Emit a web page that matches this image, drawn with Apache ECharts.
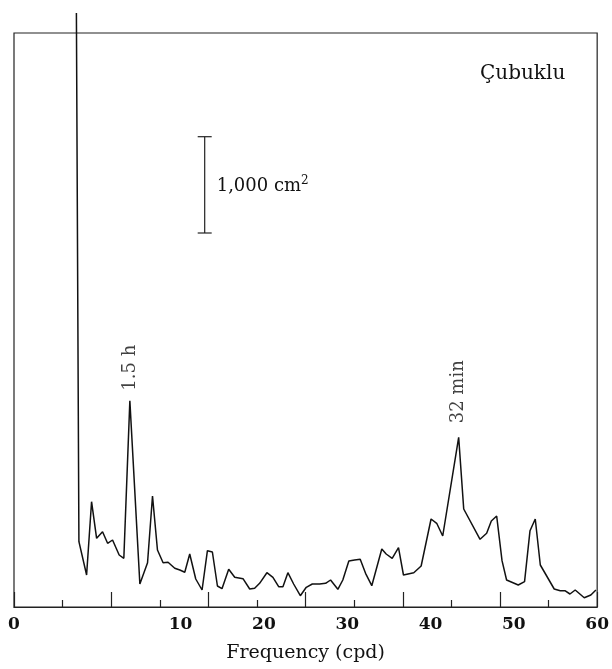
<!DOCTYPE html>
<html>
<head>
<meta charset="utf-8">
<script src="https://cdn.jsdelivr.net/npm/echarts@6/dist/echarts.min.js"></script>
<style>
html,body{margin:0;padding:0;background:#fff;}
#chart{width:612px;height:669px;}
</style>
</head>
<body>
<div id="chart"></div>
<script>
// Frequency positions (on the ticked 0-60 scale)
var freq = [
  6.42,
  6.68, 7.47, 7.98, 8.50, 9.11, 9.63, 10.14, 10.82, 11.30, 11.92,
  12.95, 13.74, 14.25, 14.76, 15.34, 15.85, 16.54, 17.06, 17.57, 18.08,
  18.70, 19.35, 19.90, 20.41, 20.93, 21.40, 22.09, 22.71, 23.56, 24.25,
  24.76, 25.27, 26.02, 26.64, 27.23, 27.67, 28.18, 28.77, 29.46, 30.07,
  30.69, 31.44, 32.06, 32.57, 33.32, 33.83, 34.45, 35.04, 35.62, 36.17,
  36.81, 37.84, 38.29, 38.91, 39.56, 40.07, 41.13, 41.89, 42.91, 43.49,
  44.11, 45.75, 46.27, 47.95, 48.63, 49.11, 49.66, 50.21, 50.68, 51.88,
  52.53, 53.09, 53.63, 54.15, 55.58, 56.20, 56.68, 57.20, 57.74, 58.67,
  59.35, 59.87
];
// Spectral power (relative units, scale bar = 1,000 cm^2)
var power = [
  594,
  65.3, 32, 105.3, 68.7, 75.3, 63.7, 67, 52, 48.7, 206.3,
  23, 44.3, 111, 57, 44.3, 44.7, 38.7, 37, 34.7, 53,
  28, 17, 56.3, 55, 21, 18.3, 37.7, 29.7, 28.3, 18,
  18.7, 23.7, 34.3, 29.7, 20.3, 20.3, 34.3, 23, 11.3, 19.7,
  23, 23, 23.7, 27, 17.7, 27, 46, 47, 47.7, 33.7,
  21.3, 58, 53, 48.7, 59.3, 32, 34.3, 41, 88, 83.7,
  71, 169.7, 98, 67.7, 73.7, 86, 91, 46.3, 27, 22,
  25.3, 76.3, 88, 42, 18, 16.3, 16.3, 13, 17, 9.3,
  12, 17
];
// Bottom tick labels (as printed)
var tickLabels = ['0', '', '10', '20', '30', '40', '50', '60'];
// Peak annotations
var peakFreq = [11.92, 45.75];
var peakPower = [206.3, 169.7];
var peakLabels = ['1.5 h', '32 min'];
var peakGap = [10, 14];
// Scale bar
var scaleBarX = 19.62;
var scaleBarLow = 374;
var scaleBarHigh = 470.3;
var scaleBarText = '1,000 cm';
var scaleBarSup = '2';
var stationName = 'Çubuklu';

var FONT = '"DejaVu Serif", "Liberation Serif", serif';

var lineData = freq.map(function (f, i) { return [f, power[i]]; });
var peakData = peakFreq.map(function (f, i) {
  return { value: [f, peakPower[i]], name: peakLabels[i], label: { distance: peakGap[i] } };
});

var chart = echarts.init(document.getElementById('chart'));
chart.setOption({
  animation: false,
  backgroundColor: '#ffffff',
  grid: {
    left: 14, right: 14, top: 33, bottom: 62,
    show: true, borderColor: '#222', borderWidth: 1.2, backgroundColor: 'transparent'
  },
  xAxis: [
    {
      type: 'value', min: 0, max: 60, interval: 10, position: 'bottom',
      axisLine: { show: true, onZero: false, lineStyle: { color: '#222', width: 1.2 } },
      axisTick: { show: true, inside: true, length: 15, lineStyle: { color: '#222', width: 1.2 } },
      minorTick: { show: true, splitNumber: 2, length: 7, lineStyle: { color: '#222', width: 1.2 } },
      axisLabel: { show: false },
      splitLine: { show: false },
      minorSplitLine: { show: false },
      name: 'Frequency (cpd)', nameLocation: 'middle', nameGap: 37,
      nameTextStyle: { fontFamily: FONT, fontSize: 19, color: '#111' }
    },
    {
      type: 'value', min: 0, max: 7, interval: 1, position: 'bottom', offset: 0,
      axisLine: { show: false, onZero: false },
      axisTick: { show: false },
      splitLine: { show: false },
      axisLabel: {
        show: true, margin: 9, fontFamily: FONT, fontSize: 17, fontWeight: 'bold', color: '#111',
        formatter: function (v) { return tickLabels[Math.round(v)] || ''; }
      }
    }
  ],
  yAxis: { type: 'value', min: 0, max: 574, show: false, splitLine: { show: false } },
  series: [
    {
      type: 'line', xAxisIndex: 0, data: lineData, showSymbol: false, clip: false,
      lineStyle: { color: '#111', width: 1.5 }, silent: true
    },
    {
      type: 'scatter', xAxisIndex: 0, data: peakData, symbolSize: 0, clip: false, silent: true,
      label: {
        show: true, position: 'top', rotate: 90, align: 'left', verticalAlign: 'middle',
        fontFamily: FONT, fontSize: 18, color: '#111',
        formatter: function (p) { return p.name; }
      }
    },
    {
      type: 'custom', xAxisIndex: 0, clip: false, silent: true,
      data: [[scaleBarX, scaleBarLow, scaleBarHigh]],
      encode: { x: 0, y: [1, 2] },
      renderItem: function (params, api) {
        var p0 = api.coord([api.value(0), api.value(1)]);
        var p1 = api.coord([api.value(0), api.value(2)]);
        var st = { stroke: '#222', lineWidth: 1.2 };
        return {
          type: 'group',
          children: [
            { type: 'line', shape: { x1: p0[0], y1: p0[1], x2: p1[0], y2: p1[1] }, style: st },
            { type: 'line', shape: { x1: p0[0] - 7, y1: p0[1], x2: p0[0] + 7, y2: p0[1] }, style: st },
            { type: 'line', shape: { x1: p1[0] - 7, y1: p1[1], x2: p1[0] + 7, y2: p1[1] }, style: st },
            { type: 'text', style: {
                x: p0[0] + 12, y: (p0[1] + p1[1]) / 2 + 1,
                text: '{a|' + scaleBarText + '}{s|' + scaleBarSup + '}',
                verticalAlign: 'middle', align: 'left',
                rich: {
                  a: { fontFamily: FONT, fontSize: 18, lineHeight: 22, fill: '#111', color: '#111' },
                  s: { fontFamily: FONT, fontSize: 12, lineHeight: 8, verticalAlign: 'top', fill: '#111', color: '#111' }
                }
            } }
          ]
        };
      }
    }
  ],
  graphic: [
    { type: 'text', left: 480, top: 64,
      style: { text: stationName, font: '20px ' + FONT, fill: '#111' } }
  ]
});
</script>
</body>
</html>
